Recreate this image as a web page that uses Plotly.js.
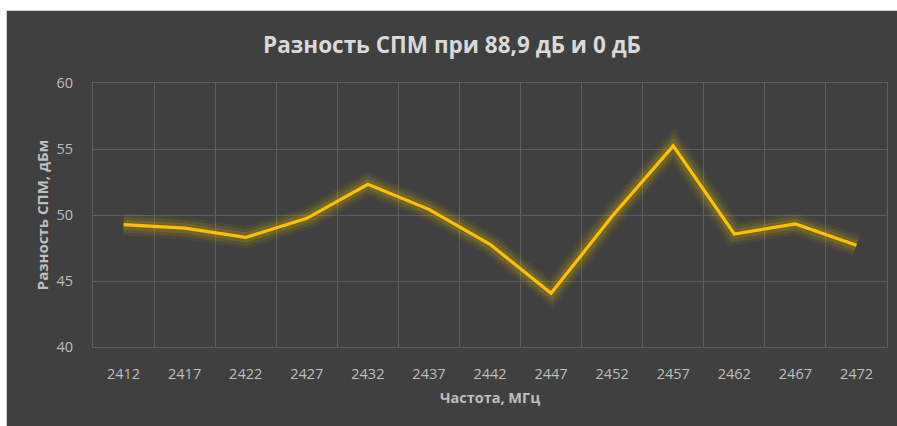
<!DOCTYPE html>
<html>
<head>
<meta charset="utf-8">
<script src="https://cdn.plot.ly/plotly-3.0.1.min.js"></script>
<style>
  html, body { margin: 0; padding: 0; background: #ffffff; width: 897px; height: 426px; overflow: hidden; }
  #chart { position: absolute; left: 6px; top: 10px; width: 891px; height: 416px;
           border-top: 1px solid #d0d0d0; border-left: 1px solid #d0d0d0; box-sizing: border-box; }
</style>
</head>
<body>
<div id="chart"></div>
<script>
const frequencies = [2412, 2417, 2422, 2427, 2432, 2437, 2442, 2447, 2452, 2457, 2462, 2467, 2472];
const psdDifference = [49.27, 49.0, 48.3, 49.75, 52.33, 50.43, 47.78, 44.07, 49.9, 55.23, 48.56, 49.32, 47.70];
const yTicks = [40, 45, 50, 55, 60];
const xTickLabels = frequencies.map(String);

function glow(width, alpha) {
  return {
    x: frequencies, y: psdDifference, type: 'scatter', mode: 'lines',
    line: { color: 'rgba(215,180,0,' + alpha + ')', width: width, shape: 'linear' },
    hoverinfo: 'skip', showlegend: false
  };
}
const mainLine = {
  x: frequencies, y: psdDifference, type: 'scatter', mode: 'lines',
  line: { color: '#FFC000', width: 3.2 }, showlegend: false
};

const step = frequencies[1] - frequencies[0];
const layout = {
  width: 890, height: 415,
  paper_bgcolor: '#404040', plot_bgcolor: '#404040',
  margin: { l: 86, r: 10, t: 72, b: 79 },
  font: { family: 'Open Sans, sans-serif', color: '#bfbfbf' },
  title: {
    text: '<b>Разность СПМ при 88,9 дБ и 0 дБ</b>',
    font: { size: 22.5, color: '#d9d9d9', family: 'Open Sans, sans-serif' },
    x: 0.5, xanchor: 'center', y: 0.918, yanchor: 'middle'
  },
  xaxis: {
    type: 'linear',
    range: [frequencies[0] - step / 2, frequencies[frequencies.length - 1] + step / 2],
    tickvals: frequencies, ticktext: xTickLabels,
    showgrid: false,
    minor: { tick0: frequencies[0] - step / 2, dtick: step, showgrid: true, gridcolor: '#5e5e5e', gridwidth: 1, ticks: '' },
    showline: true, linecolor: '#5e5e5e', mirror: true,
    ticks: '', zeroline: false,
    tickfont: { size: 14.5, color: '#bfbfbf' },
    ticklabelstandoff: 14,
    title: { text: '<b>Частота, МГц</b>', font: { size: 14.5, color: '#bfbfbf' }, standoff: 10 },
    fixedrange: true
  },
  yaxis: {
    range: [40, 60], tickvals: yTicks, ticktext: yTicks.map(String),
    showgrid: true, gridcolor: '#5e5e5e', gridwidth: 1,
    showline: true, linecolor: '#5e5e5e', mirror: true,
    zeroline: false, ticks: '',
    tickfont: { size: 14.5, color: '#bfbfbf' },
    ticklabelstandoff: 16,
    title: { text: '<b>Разность СПМ, дБм</b>', font: { size: 15, color: '#bfbfbf' }, standoff: 4 },
    fixedrange: true
  },
  showlegend: false
};

Plotly.newPlot('chart', [glow(22, 0.07), glow(16, 0.11), glow(10, 0.18), mainLine], layout,
  { displayModeBar: false, staticPlot: true });
</script>
</body>
</html>
